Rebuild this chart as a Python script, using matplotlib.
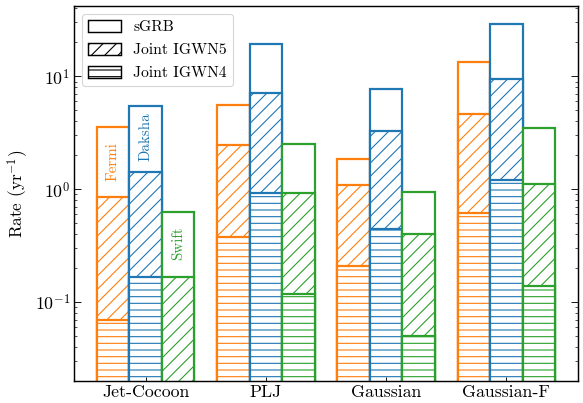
import matplotlib
matplotlib.use("Agg")
import matplotlib.pyplot as plt
import numpy as np
from matplotlib.patches import Patch

plt.rcParams.update({
    "font.family": "serif",
    "font.serif": ["cmr10", "DejaVu Serif"],
    "mathtext.fontset": "cm",
    "axes.formatter.use_mathtext": True,
    "axes.unicode_minus": False,
    "hatch.linewidth": 1.0,
})

models = ["Jet-Cocoon", "PLJ", "Gaussian", "Gaussian-F"]
instruments = ["Fermi", "Daksha", "Swift"]
colors = ["#ff7f0e", "#1f77b4", "#2ca02c"]

# rates (yr^-1) per instrument, per model
sgrb = {
    "Fermi":  [3.55, 5.6, 1.85, 13.5],
    "Daksha": [5.5, 19.4, 7.7, 28.8],
    "Swift":  [0.63, 2.52, 0.94, 3.47],
}
igwn5 = {
    "Fermi":  [0.86, 2.44, 1.09, 4.6],
    "Daksha": [1.41, 7.1, 3.27, 9.5],
    "Swift":  [0.167, 0.93, 0.40, 1.12],
}
igwn4 = {
    "Fermi":  [0.069, 0.38, 0.208, 0.61],
    "Daksha": [0.167, 0.93, 0.445, 1.21],
    "Swift":  [0.01, 0.117, 0.050, 0.139],
}

fig = plt.figure(figsize=(583 / 80, 403 / 80), dpi=80)
ax = fig.add_axes([74 / 583, 1 - 381 / 403, (578 - 74) / 583, (381 - 6) / 403])

x = np.arange(len(models))
width = 0.27
lw = 2.0
for i, inst in enumerate(instruments):
    pos = x + (i - 1) * width
    c = colors[i]
    ax.bar(pos, sgrb[inst], width, facecolor="white", edgecolor=c, lw=lw)
    ax.bar(pos, igwn5[inst], width, facecolor="white", edgecolor=c, lw=lw, hatch="//")
    ax.bar(pos, igwn4[inst], width, facecolor="white", edgecolor=c, lw=lw, hatch="--")

ax.set_yscale("log")
ax.set_ylim(0.02, 42)
ax.set_xlim(-0.595, 3.595)
ax.set_xticks(x)
ax.set_xticklabels(models, fontsize=16)
ax.set_ylabel(r"Rate (yr$^{-1}$)", fontsize=15.5)
ax.tick_params(axis="y", which="both", direction="in", right=True, labelsize=16)
ax.tick_params(axis="y", which="major", length=6)
ax.tick_params(axis="y", which="minor", length=3)
ax.tick_params(axis="x", direction="in", length=4)
for s in ax.spines.values():
    s.set_linewidth(1.3)

# instrument labels
ax.text(-0.27, 1.75, "Fermi", color=colors[0], rotation=90, ha="center", va="center", fontsize=13.5)
ax.text(0.0, 2.9, "Daksha", color=colors[1], rotation=90, ha="center", va="center", fontsize=13.5)
ax.text(0.27, 0.33, "Swift", color=colors[2], rotation=90, ha="center", va="center", fontsize=13.5)

handles = [
    Patch(facecolor="white", edgecolor="black", lw=1.3, label="sGRB"),
    Patch(facecolor="white", edgecolor="black", lw=1.3, hatch="//", label="Joint IGWN5"),
    Patch(facecolor="white", edgecolor="black", lw=1.3, hatch="--", label="Joint IGWN4"),
]
ax.legend(handles=handles, loc="upper left", fontsize=14, bbox_to_anchor=(0.0, 1.0),
          handlelength=2.1, handleheight=0.8, labelspacing=0.55, borderaxespad=0.5)

fig.savefig("out.png", dpi=80)
